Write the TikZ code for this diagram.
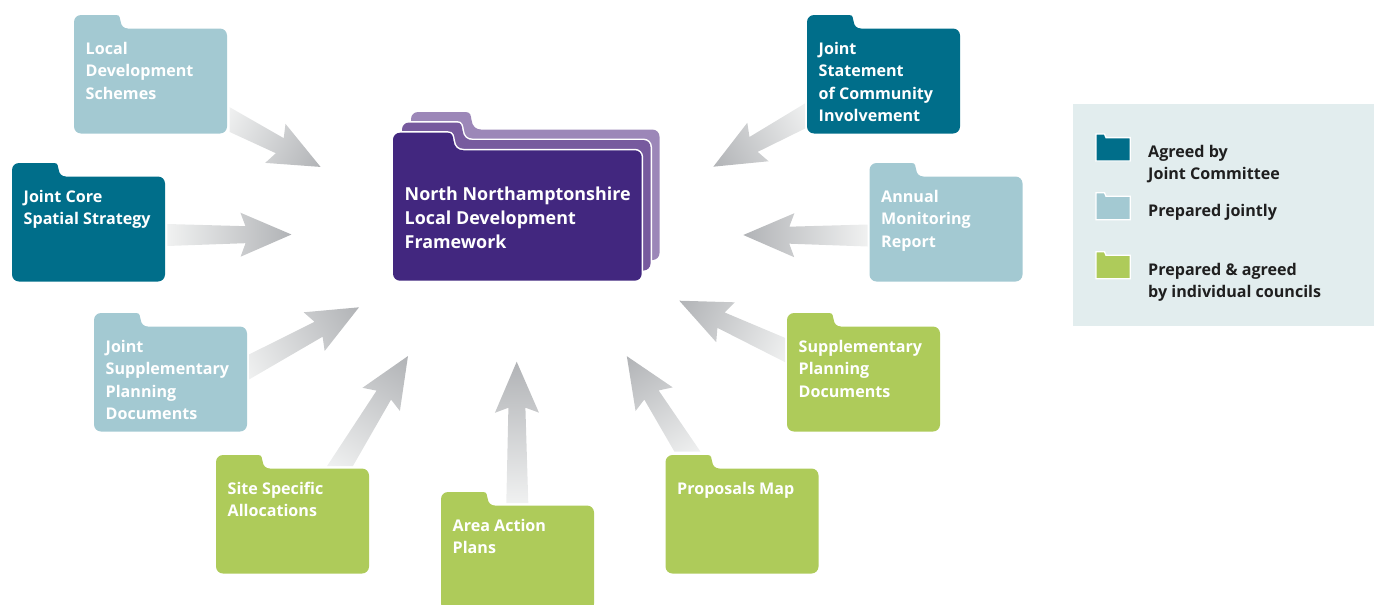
\documentclass[tikz,border=0pt]{standalone}
\usepackage{fontspec}
\setmainfont{Open Sans}
\definecolor{teal}{HTML}{006E8A}
\definecolor{paleblue}{HTML}{A3C9D2}
\definecolor{leaf}{HTML}{AECB5A}
\definecolor{purpleA}{HTML}{42277F}
\definecolor{purpleB}{HTML}{775A9E}
\definecolor{purpleC}{HTML}{9C87B8}
\definecolor{legendbg}{HTML}{E2EDEE}
\definecolor{arrowlight}{HTML}{F0F1F1}
\definecolor{arrowdark}{HTML}{B1B3B6}
\tikzset{
  foldertext/.style={anchor=north west,inner sep=0pt,align=left,text=white,font=\bfseries\fontsize{16.1}{22.5}\selectfont},
  maintext/.style={anchor=north west,inner sep=0pt,align=left,text=white,font=\bfseries\fontsize{17.9}{24}\selectfont},
  legendtext/.style={anchor=north west,inner sep=0pt,align=left,text=black!88,font=\bfseries\fontsize{16.1}{22.5}\selectfont},
}
% outline of a folder: #1 width, #2 height, #3 tab scale
\newcommand\folderoutline[3]{
  (0,7) arc[start angle=180,end angle=270,radius=7]
  -- ({42*#3},0)
  .. controls ({46*#3},0) and ({46*#3},{3*#3}) .. ({46.5*#3},{6*#3})
  .. controls ({47*#3},{11*#3}) and ({50*#3},{13.5*#3}) .. ({54*#3},{13.5*#3})
  -- (#1-7,{13.5*#3}) arc[start angle=-90,end angle=0,radius=7]
  -- (#1,#2-7) arc[start angle=0,end angle=90,radius=7]
  -- (7,#2) arc[start angle=90,end angle=180,radius=7] -- cycle
}
% #1 name, #2 x, #3 y, #4 colour, #5 text
\newcommand\folder[5]{
  \fill[#4,shift={(#2,#3)}] \folderoutline{153}{118.5}{1};
  \node[foldertext] (#1) at (#2+11.5,#3+39-16) {\rule{0pt}{16pt}#5};
}
% gradient arrow from named point #1 to named point #2; tail cut vertical (#3=1) or horizontal (#3=0)
\newcommand\garrow[3]{
  \pgfpointdiff{\pgfpointanchor{#1}{center}}{\pgfpointanchor{#2}{center}}
  \pgfgetlastxy\gdx\gdy
  \pgfmathsetmacro\gang{atan2(\gdy,\gdx)}
  \pgfmathsetmacro\glen{veclen(\gdx,\gdy)}
  \pgfmathsetmacro\gnotch{\glen-46}
  \pgfmathsetmacro\gbarb{\glen-51}
  \ifnum#3=1 \pgfmathsetmacro\gs{11*tan(\gang)}\else\pgfmathsetmacro\gs{-11/tan(\gang)}\fi
  \pgfmathsetmacro\gsneg{-\gs}
  \shade[left color=arrowlight,right color=arrowdark,shading angle=90,
    transform canvas={shift={(#1)},rotate=\gang}]
    (\gsneg pt,-11pt) -- (\gnotch pt,-8.5pt) -- (\gbarb pt,-22pt) -- (\glen pt,0pt)
    -- (\gbarb pt,22pt) -- (\gnotch pt,8.5pt) -- (\gs pt,11pt) -- cycle;
}
\begin{document}
\begin{tikzpicture}[x=1pt,y=-1pt]
\useasboundingbox (0,0) rectangle (1374,605);
% arrow ends
\coordinate (tailA) at (229.5,119.5); \coordinate (tipA) at (320.7,167);
\coordinate (tailB) at (167.3,235);   \coordinate (tipB) at (291.5,234.5);
\coordinate (tailC) at (249,367);     \coordinate (tipC) at (359,307.3);
\coordinate (tailD) at (340,466);     \coordinate (tipD) at (408,356);
\coordinate (tailE) at (517.3,503);   \coordinate (tipE) at (516.7,361.7);
\coordinate (tailF) at (687.5,451.7); \coordinate (tipF) at (626.7,356);
\coordinate (tailG) at (785,350);     \coordinate (tipG) at (679.3,300.7);
\coordinate (tailH) at (867.5,235.5); \coordinate (tipH) at (743.3,235);
\coordinate (tailI) at (805,116);     \coordinate (tipI) at (713.3,166.7);
\garrow{tailA}{tipA}{1}
\garrow{tailB}{tipB}{1}
\garrow{tailC}{tipC}{1}
\garrow{tailD}{tipD}{0}
\garrow{tailE}{tipE}{0}
\garrow{tailF}{tipF}{0}
\garrow{tailG}{tipG}{1}
\garrow{tailH}{tipH}{1}
\garrow{tailI}{tipI}{1}
% central stack
\fill[purpleC,shift={(411,112)}] \folderoutline{248.5}{148}{1.3};
\fill[purpleB,preaction={draw=white,line width=3pt},shift={(402,122.5)}] \folderoutline{248.5}{148}{1.3};
\fill[purpleA,preaction={draw=white,line width=3pt},shift={(393,132.7)}] \folderoutline{248.7}{148}{1.3};
\node[maintext] (main) at (404.5,200-17) {\rule{0pt}{17pt}North Northamptonshire\\Local Development\\Framework};
% folders
\folder{lds}{74}{15}{paleblue}{Local\\Development\\Schemes}
\folder{jcss}{12}{163}{teal}{Joint Core\\Spatial Strategy}
\folder{jspd}{94}{313}{paleblue}{Joint\\Supplementary\\Planning\\Documents}
\folder{ssa}{216}{455}{leaf}{Site Specific\\Allocations}
\folder{aap}{441}{492}{leaf}{Area Action\\Plans}
\folder{pm}{665.5}{455}{leaf}{Proposals Map}
\folder{spd}{787}{313}{leaf}{Supplementary\\Planning\\Documents}
\folder{amr}{869.5}{163}{paleblue}{Annual\\Monitoring\\Report}
\folder{jsci}{807}{15}{teal}{Joint\\Statement\\of Community\\Involvement}
% legend
\fill[legendbg] (1073,104) rectangle (1374,326);
\foreach \nm/\yy/\cc in {keyA/134/teal,keyB/192.7/paleblue,keyC/251.7/leaf}{
  \fill[\cc,draw=white,line width=1.3pt,shift={(1096,\yy)}] (0,1) -- (0,0) -- (8.5,0) -- (10,3.6) -- (34.3,3.6) -- (34.3,27) -- (0,27) -- cycle;
}
\node[legendtext] (keyAt) at (1148,157-16) {\rule{0pt}{16pt}Agreed by\\Joint Committee};
\node[legendtext] (keyBt) at (1148,216-16) {\rule{0pt}{16pt}Prepared jointly};
\node[legendtext] (keyCt) at (1148,275-16) {\rule{0pt}{16pt}Prepared \& agreed\\by individual councils};
\end{tikzpicture}
\end{document}
